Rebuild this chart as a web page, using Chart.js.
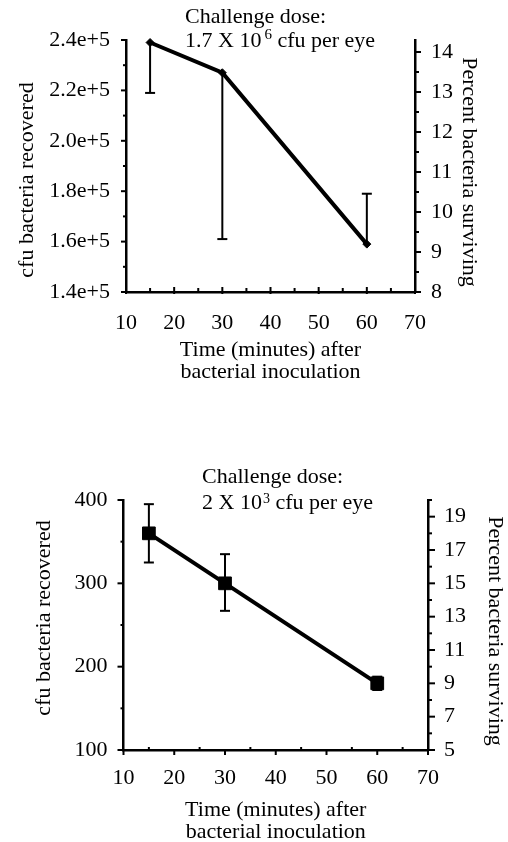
<!DOCTYPE html>
<html>
<head>
<meta charset="utf-8">
<script src="https://cdn.jsdelivr.net/npm/chart.js@4.4.1/dist/chart.umd.min.js"></script>
<style>
  html, body { margin: 0; padding: 0; background: #fff; overflow: hidden; }
  .panel { position: absolute; left: 0; }
</style>
</head>
<body>
<div class="panel" style="top:0"><canvas id="topChart" width="508" height="400"></canvas></div>
<div class="panel" style="top:440px"><canvas id="bottomChart" width="508" height="412"></canvas></div>
<script>
// time points (minutes after inoculation)
const times = [15, 30, 60];
const timeTicks = [10, 20, 30, 40, 50, 60, 70];
const timeMinor = [15, 25, 35, 45, 55, 65];

// top panel: challenge dose 1.7 x 10^6
const topCfu = [239000, 227000, 159000];
const topBarLow = [219000, 161000, 159000];
const topBarHigh = [239000, 227000, 179000];
const topCfuTicks = [140000, 160000, 180000, 200000, 220000, 240000];
const topCfuMinor = [150000, 170000, 190000, 210000, 230000];
const topPctTicks = [8, 9, 10, 11, 12, 13, 14];
const topPctMinor = [8.5, 9.5, 10.5, 11.5, 12.5, 13.5];

// bottom panel: challenge dose 2 x 10^3
const botCfu = [360, 300, 180];
const botBarLow = [325, 267, 172];
const botBarHigh = [395, 335, 188];
const botCfuTicks = [100, 200, 300, 400];
const botCfuMinor = [150, 250, 350];
const botPctTicks = [5, 7, 9, 11, 13, 15, 17, 19];
const botPctMinor = [6, 8, 10, 12, 14, 16, 18, 20];

const FAMILY = '"Liberation Serif", "Times New Roman", serif';
const SIZE = 22;
const serif = { family: FAMILY, size: SIZE, lineHeight: 1.2 };

Chart.defaults.font.family = FAMILY;
Chart.defaults.color = '#000';

// error bars, caps only on the free end
const errorBars = {
  id: 'errorBars',
  beforeDatasetsDraw(chart, args, opts) {
    const { ctx, scales: { x, y } } = chart;
    ctx.save();
    ctx.strokeStyle = '#000';
    ctx.lineWidth = opts.width;
    opts.xs.forEach((t, i) => {
      const px = x.getPixelForValue(t);
      const ends = [opts.low[i], opts.high[i]];
      ctx.beginPath();
      ctx.moveTo(px, y.getPixelForValue(ends[0]));
      ctx.lineTo(px, y.getPixelForValue(ends[1]));
      ctx.stroke();
      ends.forEach(v => {
        if (v === opts.values[i]) return;
        const py = y.getPixelForValue(v);
        ctx.beginPath();
        ctx.moveTo(px - opts.cap, py);
        ctx.lineTo(px + opts.cap, py);
        ctx.stroke();
      });
    });
    ctx.restore();
  }
};

// small tick marks along each axis
const tickMarks = {
  id: 'tickMarks',
  afterDraw(chart, args, opts) {
    const ctx = chart.ctx;
    ctx.save();
    ctx.strokeStyle = '#000';
    ctx.lineWidth = 2;
    opts.marks.forEach(m => {
      const scale = chart.scales[m.axis];
      m.values.forEach(v => {
        const p = scale.getPixelForValue(v);
        ctx.beginPath();
        if (scale.isHorizontal()) {
          ctx.moveTo(p, scale.top + m.from);
          ctx.lineTo(p, scale.top + m.to);
        } else {
          const edge = scale.position === 'left' ? scale.right : scale.left;
          ctx.moveTo(edge + m.from, p);
          ctx.lineTo(edge + m.to, p);
        }
        ctx.stroke();
      });
    });
    ctx.restore();
  }
};

// heading text and the two rotated axis titles
const headings = {
  id: 'headings',
  afterDraw(chart, args, o) {
    const ctx = chart.ctx;
    ctx.save();
    ctx.fillStyle = '#000';
    ctx.textBaseline = 'alphabetic';
    ctx.textAlign = 'left';
    ctx.font = `${SIZE}px ${FAMILY}`;
    ctx.fillText(o.line1, o.x, o.y1);
    let x = o.x;
    ctx.fillText(o.line2a, x, o.y2);
    x += ctx.measureText(o.line2a).width + o.supGap;
    ctx.font = `${o.supSize}px ${FAMILY}`;
    ctx.fillText(o.sup, x, o.y2 - o.supRise);
    x += ctx.measureText(o.sup).width;
    ctx.font = `${SIZE}px ${FAMILY}`;
    ctx.fillText(o.line2b, x, o.y2);

    ctx.textAlign = 'center';
    ctx.textBaseline = 'middle';
    o.titles.forEach(t => {
      ctx.save();
      ctx.translate(t.x, t.y);
      ctx.rotate(t.angle);
      ctx.fillText(t.text, 0, 0);
      ctx.restore();
    });
    ctx.restore();
  }
};

function buildChart(id, cfg) {
  return new Chart(document.getElementById(id), {
    type: 'line',
    data: {
      datasets: [{
        data: times.map((t, i) => ({ x: t, y: cfg.values[i] })),
        borderColor: '#000',
        backgroundColor: '#000',
        borderWidth: 4,
        pointStyle: cfg.pointStyle,
        pointRadius: cfg.pointRadius,
        pointBorderWidth: 1,
        pointBorderColor: '#000',
        tension: 0,
        clip: false
      }]
    },
    options: {
      responsive: false,
      animation: false,
      layout: { padding: { top: cfg.padTop, left: 0, right: 0, bottom: 0 } },
      scales: {
        x: {
          type: 'linear', min: 10, max: 70,
          afterBuildTicks: s => { s.ticks = timeTicks.map(v => ({ value: v })); },
          afterFit: s => { s.height = cfg.xHeight; },
          grid: { display: false, drawTicks: false },
          border: { display: true, color: '#000', width: 2.5 },
          ticks: { font: serif, padding: cfg.xTickPad, maxRotation: 0, color: '#000' },
          title: {
            display: true,
            text: ['Time (minutes) after', 'bacterial inoculation'],
            font: { family: FAMILY, size: SIZE, lineHeight: 1.0 },
            padding: { top: 0, bottom: cfg.xTitlePad },
            color: '#000'
          }
        },
        y: {
          position: 'left', min: cfg.yMin, max: cfg.yMax,
          afterBuildTicks: s => { s.ticks = cfg.yTicks.map(v => ({ value: v })); },
          afterFit: s => { s.width = cfg.leftWidth; },
          grid: { display: false, drawTicks: false },
          border: { display: true, color: '#000', width: 2.5 },
          ticks: { font: serif, padding: 16, color: '#000', callback: cfg.yLabel }
        },
        y2: {
          position: 'right', min: cfg.pMin, max: cfg.pMax,
          afterBuildTicks: s => { s.ticks = cfg.pTicks.map(v => ({ value: v })); },
          afterFit: s => { s.width = cfg.rightWidth; },
          grid: { display: false, drawTicks: false },
          border: { display: true, color: '#000', width: 2.5 },
          ticks: { font: serif, padding: 16, color: '#000' }
        }
      },
      plugins: {
        legend: { display: false },
        tooltip: { enabled: false },
        errorBars: { xs: times, values: cfg.values, low: cfg.low, high: cfg.high, width: 2, cap: 5 },
        tickMarks: { marks: cfg.marks },
        headings: cfg.head
      }
    },
    plugins: [errorBars, tickMarks, headings]
  });
}

buildChart('topChart', {
  values: topCfu, low: topBarLow, high: topBarHigh,
  pointStyle: 'rectRot', pointRadius: 4,
  padTop: 40, leftWidth: 126, rightWidth: 93, xHeight: 108,
  xTickPad: 18, xTitlePad: 17,
  yMin: 140000, yMax: 240000, yTicks: topCfuTicks,
  yLabel: v => Number(v).toExponential(1),
  pMin: 8, pMax: 14.3, pTicks: topPctTicks,
  marks: [
    { axis: 'y', values: topCfuTicks, from: -5, to: 0 },
    { axis: 'y', values: topCfuMinor, from: -3, to: 0 },
    { axis: 'y2', values: topPctTicks, from: 0, to: 6 },
    { axis: 'y2', values: topPctMinor, from: 0, to: 4 },
    { axis: 'x', values: timeTicks, from: -5, to: 2 },
    { axis: 'x', values: timeMinor, from: -4, to: 0 }
  ],
  head: {
    x: 185, y1: 23, y2: 47,
    line1: 'Challenge dose:', line2a: '1.7 X 10', sup: '6', line2b: ' cfu per eye',
    supSize: 15, supRise: 8, supGap: 3,
    titles: [
      { text: 'cfu bacteria recovered', x: 27, y: 180, angle: -Math.PI / 2 },
      { text: 'Percent bacteria surviving', x: 469, y: 172, angle: Math.PI / 2 }
    ]
  }
});

buildChart('bottomChart', {
  values: botCfu, low: botBarLow, high: botBarHigh,
  pointStyle: 'rect', pointRadius: 9,
  padTop: 60, leftWidth: 123.5, rightWidth: 80, xHeight: 102,
  xTickPad: 15, xTitlePad: 9,
  yMin: 100, yMax: 400, yTicks: botCfuTicks,
  yLabel: v => String(v),
  pMin: 5, pMax: 20, pTicks: botPctTicks,
  marks: [
    { axis: 'y', values: botCfuTicks, from: -6, to: 0 },
    { axis: 'y', values: botCfuMinor, from: -3, to: 0 },
    { axis: 'y2', values: botPctTicks, from: 0, to: 7 },
    { axis: 'y2', values: botPctMinor, from: 0, to: 4 },
    { axis: 'x', values: timeTicks, from: 0, to: 5 },
    { axis: 'x', values: timeMinor, from: -3, to: 0 }
  ],
  head: {
    x: 202, y1: 43, y2: 69,
    line1: 'Challenge dose:', line2a: '2 X 10', sup: '3', line2b: ' cfu per eye',
    supSize: 14, supRise: 6, supGap: 1,
    titles: [
      { text: 'cfu bacteria recovered', x: 44, y: 178, angle: -Math.PI / 2 },
      { text: 'Percent bacteria surviving', x: 495, y: 191, angle: Math.PI / 2 }
    ]
  }
});
</script>
</body>
</html>
